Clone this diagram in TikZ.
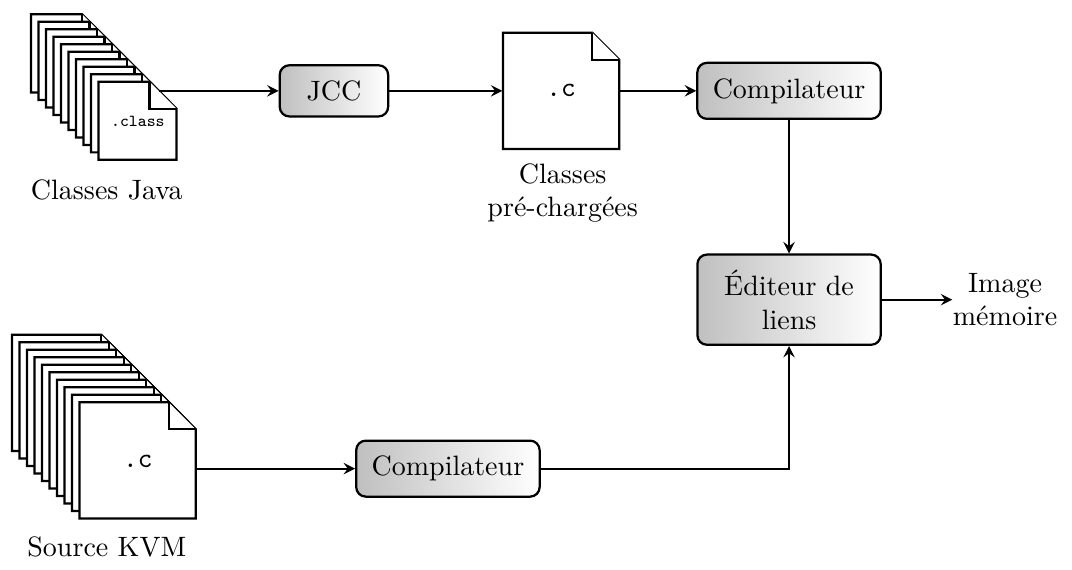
\documentclass[tikz,border=0pt]{standalone}
\usetikzlibrary{arrows,calc,positioning}
\tikzset{>=stealth}
\tikzstyle{proc}=[rectangle,draw=black,thick,rounded corners=0.12cm,left color=gray!50,right color=white,inner sep=5.5pt,align=center]
\tikzstyle{sheet}=[draw=black,fill=white,thick]
\tikzstyle{lbl}=[inner sep=0pt,align=center]

% une feuille avec un coin plie
\def\ear{0.34}
\newcommand{\docpage}[3]{%
    \filldraw[sheet] (#1,#2) -- ++(#3-\ear,0) -- ++(\ear,-\ear) -- ++(0,-#3+\ear) -- ++(-#3,0) -- cycle;
    \draw[sheet] (#1+#3-\ear,#2) -- ++(0,-\ear) -- ++(\ear,0);
}

\begin{document}
\begin{tikzpicture}
    \def \numb {9};
    \def \shift {0.094};
    \useasboundingbox (0,0) rectangle (13.45,-7.14);

    % classes java
    \foreach \i in {0,...,\numb} {
        \docpage{0.39+\i*\shift}{-0.18-\i*\shift}{0.98};
    };
    \node[minimum size=0.98cm,inner sep=0pt,font=\fontsize{6}{7}\selectfont\ttfamily] (jpage) at (1.73,-1.52) {.class};
    \node[lbl] (ljava) at (1.34,-2.38) {Classes Java};
    \coordinate (jout) at (1.99,-1.14);

    % source kvm
    \foreach \i in {0,...,\numb} {
        \docpage{0.15+\i*\shift}{-4.2-\i*\shift}{1.46};
    };
    \node[minimum size=1.46cm,inner sep=0pt,font=\ttfamily] (kpage) at (1.73,-5.79) {.c};
    \node[lbl] (lkvm) at (1.34,-6.86) {Source KVM};

    % classes pre-chargees
    \docpage{6.31}{-0.41}{1.46};
    \node[minimum size=1.46cm,inner sep=0pt,font=\ttfamily] (cpage) at (7.04,-1.14) {.c};
    \node[lbl] (lpre) at (7.06,-2.42) {Classes\\pré-chargées};

    \node[proc,minimum width=1.36cm] (jcc) at (4.19,-1.14) {JCC};
    \node[proc] (comp1) at (9.9,-1.14) {Compilateur};
    \node[proc] (comp2) at (5.62,-5.88) {Compilateur};
    \node[proc,minimum width=2.3cm] (edit) at (9.9,-3.76) {Éditeur de\\liens};
    \node[lbl] (limg) at (12.61,-3.76) {Image\\mémoire};

    \draw[->, thick] (jout) -- (jcc);
    \draw[->, thick] (jcc) -- (cpage);
    \draw[->, thick] (cpage) -- (comp1);
    \draw[->, thick] (comp1) -- (edit);
    \draw[->, thick] (kpage.east |- comp2) -- (comp2);
    \draw[->, thick] (comp2) -| (edit);
    \draw[->, thick] (edit) -- (limg);
\end{tikzpicture}
\end{document}
